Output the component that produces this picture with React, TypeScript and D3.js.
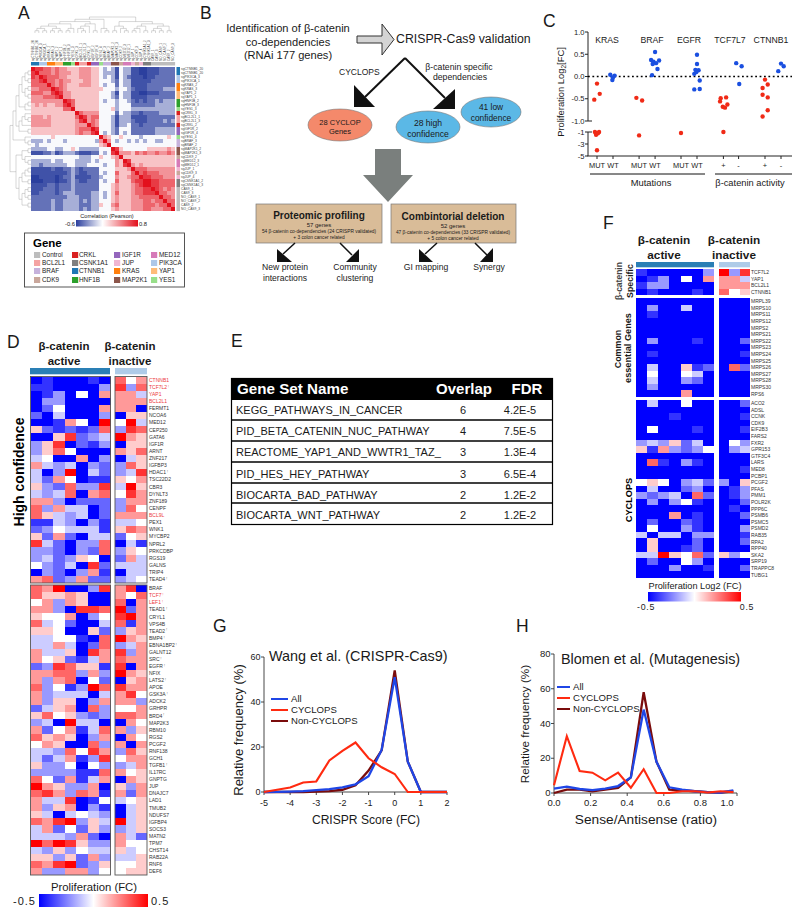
import React from "react";
import * as d3 from "d3";

const FONT = "'Liberation Sans', Arial, sans-serif";

// ---------- Panel A ----------
const sgLabels = ["sgCTNNB1_20","sgCTNNB1_20","sgPIK3CA_3","sgPIK3CA_1","sgKRAS_2","sgKRAS_3","sgYAP1_2","sgYAP1_1","sgHNF1B_2","sgHNF1B_3","sgYES1_3","sgCRKL_3","sgBCL2L1_1","sgBCL2L1_3","sgCRKL_2","sgIGF1R_2","sgIGF1R_4","sgYES1_4","sgBRAF_3","sgBRAF_2","sgMAP2K1_2","sgMAP2K1_3","sgCDK9_2","sgMED12_3","sgMED12_1","sgJUP_1","sgCDK9_3","sgJUP_4","sgCSNK1A1_2","sgCSNK1A1_3","CAS9_1","CAS9_3","NO_CAS9_1","NO_CAS9_2","CAS9_2","NO_CAS9_3"];
const sgGenes = ["CTNNB1","CTNNB1","PIK3CA","PIK3CA","KRAS","KRAS","YAP1","YAP1","HNF1B","HNF1B","YES1","CRKL","BCL2L1","BCL2L1","CRKL","IGF1R","IGF1R","YES1","BRAF","BRAF","MAP2K1","MAP2K1","CDK9","MED12","MED12","JUP","CDK9","JUP","CSNK1A1","CSNK1A1","Control","Control","Control","Control","Control","Control"];
const legendGenes = ["Control","BCL2L1","BRAF","CDK9","CRKL","CSNK1A1","CTNNB1","HNF1B","IGF1R","JUP","KRAS","MAP2K1","MED12","PIK3CA","YAP1","YES1"];
const legendColors = ["#bdbdbd","#f4a3a3","#c6b2dc","#c9a79c","#d9201f","#7f7f7f","#1f77b4","#2ca02c","#9467bd","#f0b6d2","#ff7f0e","#8c564b","#d67ab8","#aec7e8","#ffbb78","#98df8a"];
// upper triangle of the correlation matrix, one digit per cell (index into corrLevels)
const corrLevels = [-0.6,-0.54,-0.44,-0.25,-0.02,0.2,0.36,0.52,0.66,0.8];
const corrUpper = [
"98877676655566655 434 31 433 11001 112222",
"9777676665566655 433 31 433 11001 112222",
"987776655566655 434 31 432 11101 122222",
"97767665556655 444 32 433 11111 222222",
"9767655566655 434 42 433 11112 222222",
"987655555555 544 43 443 21112 222333",
"98665555555 444 31 433 11001 112222",
"9665555555 444 32 433 11112 222222",
"987555555 434 43 443 21212 232333",
"97555555 444 43 444 22222 233333",
"9555555 444 53 444 33333 333333",
"976666 444 42 433 22122 223333",
"98677 444 31 333 11112 222222",
"9676 444 31 333 21112 222323",
"976 444 31 334 22122 222222",
"98 444 32 444 22222 233333",
"9 434 32 434 22222 233333",
"965 44 544 44344 444454",
"96 43 443 43434 433444",
"9 44 444 44444 444444",
"98 544 44445 555565",
"9 666 57676 676676",
"955 55555 555555",
"98 55555 555555",
"9 65655 555555",
"97776 666666",
"9787 776666",
"988 777666",
"99 887777",
"9 887777",
"987676",
"97766",
"9776",
"977",
"97",
"9",
].map(s=>s.replace(/ /g,""));
// dendrogram leaves are the matrix indices
const dendroTree: any = [[[[[[[0,1],[2,3]],[[4,5],[6,7]]],[[8,9],10]],[[[11,[12,13]],14],[15,16]]],[[17,[18,19]]]],[[[20,21],[22,[23,24]]],[[[[25,26],27],[28,29]],[[[30,31],[32,33]],[34,35]]]]];

// ---------- Panel C ----------
const cCats = ["MUT","WT","MUT","WT","MUT","WT","+","-","+","-"];
const cCatPos = [0,1,2.63,3.63,5.25,6.25,7.9,8.85,10.5,11.5];
const cHeads = ["KRAS","BRAF","EGFR","TCF7L7","CTNNB1"];
const cHeadX = [607,652,689,730,771];
const cUpperTicks = [1,0.5,0,-0.5,-1];
const cLowerTicks = [-1,-3,-5];
const cKrasMut = [[0,-0.16],[0.17,-0.39],[-0.17,-0.52],[-0.13,-1],[0.13,-1],[0,-1.2],[-0.06,-1.45],[0.06,-1.2],[0,-4.03]];
const cKrasWt = [[-0.17,0.04],[0.1,0.02],[0,-0.02],[-0.04,-0.08]];
const cBrafMut = [[-0.17,-0.48],[0.19,-0.54],[0,-1.57]];
const cBrafWt = [[0,0.55],[-0.25,0.37],[0.25,0.36],[-0.1,0.33],[0.06,0.3],[-0.15,0.28],[0.15,0.17],[-0.19,0.03]];
const cEgfrMut = [[0,-1.17]];
const cEgfrWt = [[0,0.49],[0,0.28],[-0.1,0.15],[0.1,0.14],[-0.17,0.06],[-0.04,0.1],[0.17,-0.09],[-0.17,-0.29],[0.17,-0.28]];
const cTcfPos = [[-0.17,-0.49],[0.17,-0.47],[-0.21,-0.56],[0.25,-0.63],[-0.04,-0.68],[0.1,-0.7],[0,-1]];
const cTcfNeg = [[-0.15,0.3],[0.19,0.23],[0.04,-0.17]];
const cCtnPos = [[0,-0.07],[0.17,-0.18],[-0.15,-0.26],[-0.15,-0.41],[0.17,-0.47],[0.17,-0.76],[-0.15,-0.9]];
const cCtnNeg = [[0,0.29],[0.17,0.23],[-0.17,0.12]];
const cSeries = [cKrasMut,cKrasWt,cBrafMut,cBrafWt,cEgfrMut,cEgfrWt,cTcfPos,cTcfNeg,cCtnPos,cCtnNeg];

// ---------- Panel D ----------
const dGenesTop = ["CTNNB1","TCF7L2","YAP1","BCL2L1","FERMT1","NCOA6","MED12","CEP250","GATA6","IGF1R","ARNT","ZNF217","IGFBP3","HDAC1","TSC22D2","CBR3","DYNLT3","ZNF189","CENPF","BCL9L","PEX1","WNK1","MYCBP2","NPRL2","PRKCDBP","RGS19","GALNS","TRIP4","TEAD4"];
const dRedGenes = ["CTNNB1","TCF7L2","YAP1","BCL2L1","BCL9L","TCF7","LEF1"];
const dMarkedGenes = ["TCF7L2","HDAC1","TEAD4","TCF7","LEF1","TEAD1","TEAD2","BMP4","EBNA1BP2","SRC","EGFR","LATS2","GSK3A","BRD4","TGFB1"];
// one character per cell: 0 = -0.5 ... 5 = 0 ... a = +0.5
const dTop = ["0100010857","1100003938","0130507774","0330000777","0250007770","2040003066","001750a5a4","6212128398","0069234a76","3690213066","3685000768","4500703046","7434032386","403a042349","4275011657","63283394a6","4348078597","7730222377","8374402385","8643402777","1143031445","2354441687","6272044256","9420338041","3320328365","3423650274","5324092444","0320371044","7823722345"];
const dBottom = ["87a0039790","8667600758","5737600807","7730998a27","65570359a7","8452004817","6650062367","4455108a76","4474028347","7446097937","7562147877","2398661907","7788373a76","7378052067","83513a8977","7344404795","7366037773","2467083557","6856323887","340a440075","7257148736","8676037075","5760083707","4438597386","4247139577","6335053347","3333118756","8527147076","a763370637","8973871727","7449015456","7367031046","6404543046","879a364a46","4725263346","4443720742","a8a9633755","4363544645","6636273446","879a236556","7337735566"];
const dGenesBottom = ["BRAF","TCF7","LEF1","TEAD1","CRYL1","VPS4B","TEAD2","BMP4","EBNA1BP2","GALNT12","SRC","EGFR","NFIX","LATS2","APOE","GSK3A","ADCK2","GRHPR","BRD4","MAP2K3","RBM10","RGS2","PCGF2","RNF138","GCH1","TGFB1","IL17RC","GNPTG","JUP","DNAJC7","LAD1","TMUB2","NDUFS7","IGFBP4","SOCS3","MATN2","TPM7","CHST14","RAB22A","RNF6","DEF6"];

// ---------- Panel E ----------
const eNames = ["KEGG_PATHWAYS_IN_CANCER","PID_BETA_CATENIN_NUC_PATHWAY","REACTOME_YAP1_AND_WWTR1_TAZ_","PID_HES_HEY_PATHWAY","BIOCARTA_BAD_PATHWAY","BIOCARTA_WNT_PATHWAY"];
const eOverlap = [6,4,3,3,2,2];
const eFdr = ["4.2E-5","7.5E-5","1.3E-4","6.5E-4","1.2E-2","1.2E-2"];

// ---------- Panel F ----------
const fGenes1 = ["TCF7L2","YAP1","BCL2L1","CTNNB1"];
const fGenes2 = ["MRPL39","MRPS10","MRPS11","MRPS12","MRPS2","MRPS21","MRPS22","MRPS23","MRPS24","MRPS25","MRPS26","MRPS27","MRPS28","MRPS30","RPS6"];
const fGenes3 = ["ACO2","ADSL","CCNK","CDK9","EIF2B3","FARS2","FXR2","GPR153","GTF3C4","LARS","MED8","PCBP1","PCGF2","PFAS","PMM1","POLR2K","PPP6C","PSMB6","PSMC5","PSMD2","RAB35","RPA2","RPP40","SKA2","SRP19","TRAPPC8","TUBG1"];
const fRows1 = ["1000003a39","0130507774","1330000777","0100010856"];
const fRows2 = ["0000000000","0300400000","0100000000","0000000000","0000000000","0000000000","0300010002","0000000000","0100000001","0000000000","0400612082","0500540000","0400320000","0300000000","0000700000"];
const fRows3 = ["0400500002","0000000000","0001000001","0000000000","0500010001","0000000000","3436240053","6173235034","0000000000","0810310000","0000000001","0000000000","5650342306","0400230013","3234082013","0303510002","0000000010","0007010002","0200210000","0500310003","4044033001","0600020002","0600120000","44a6582635","0200530000","0003001002","0000000000"];

// ---------- Panels G, H ----------
const gX = [-5,-4.5,-4,-3.5,-3,-2.5,-2,-1.5,-1,-0.5,0,0.5,1,1.5,2];
const gAll = [0,0.1,0.2,0.4,0.8,1.3,2.1,3.4,7,18.7,51,13.5,0,0,0];
const gCyclops = [0,1,2,4.2,4.7,14,18.3,22,15,11,8,0,0,0,0];
const gNon = [0,0,0,0,0.2,0.4,1,3,9.5,18.5,54,13.5,0,0,0];
const hX = [0,0.07,0.14,0.21,0.28,0.35,0.42,0.49,0.56,0.63,0.7,0.77,0.84,0.91,0.98];
const hAll = [2.5,3.7,2.3,1.7,2.5,4,9,48,18,3.3,2,1,0.5,0.3,1.5];
const hCyclops = [4.4,32.7,12.7,11.7,7.3,11.7,3,13.7,0,0,1,1,0.3,1,0.5];
const hNon = [0,2,2,1,2,3,9,58,18,2,1.5,1,0.5,0.3,1];
const lineLegend = ["All","CYCLOPS","Non-CYCLOPS"];
const lineColors = ["#1f46e6","#ff2a10","#7a0c0c"];

// ---------- helpers ----------
const corrColor = d3.scaleLinear<string>().domain([-0.6,0,0.8]).range(["#2b3f9e","#ffffff","#e3101c"]);
const fcColor = d3.scaleLinear<string>().domain([-0.5,0,0.5]).range(["#0000ff","#ffffff","#ff0000"]);
const lvl = (c: string) => (c === "a" ? 10 : +c) / 10 - 0.5;

function Txt({x,y,size,children,anchor="start",weight="normal",fill="#1a1a1a",rotate,spacing}: any) {
  return <text x={x} y={y} fontSize={size} textAnchor={anchor} fontWeight={weight} fill={fill} letterSpacing={spacing}
    transform={rotate!==undefined?`rotate(${rotate} ${x} ${y})`:undefined}>{children}</text>;
}

function Heat({rows,x0,x1,y0,y1,from,to,outline="#555"}: any) {
  const nRows = rows.length;
  const n = to - from;
  const xs = d3.scaleLinear().domain([0,n]).range([x0,x1]);
  const ys = d3.scaleLinear().domain([0,nRows]).range([y0,y1]);
  return <g>
    {rows.map((r: string,i: number)=> Array.from(r.slice(from,to)).map((c,j)=>(
      <rect key={`${i}-${j}`} x={xs(j)} y={ys(i)} width={xs(j+1)-xs(j)+0.3} height={ys(i+1)-ys(i)+0.3} fill={fcColor(lvl(c))} shapeRendering="crispEdges"/>
    )))}
    {outline && <rect x={x0} y={y0} width={x1-x0} height={y1-y0} fill="none" stroke={outline} strokeWidth={0.9}/>}
  </g>;
}

function GradBar({id,x,y,w,h,stops}: any) {
  return <g>
    <defs><linearGradient id={id}>{stops.map((s: any,i: number)=><stop key={i} offset={s[0]} stopColor={s[1]}/>)}</linearGradient></defs>
    <rect x={x} y={y} width={w} height={h} fill={`url(#${id})`}/>
  </g>;
}

function Dendro({orientation}: {orientation:"top"|"left"}) {
  const root = d3.hierarchy<any>(dendroTree,(d: any)=>Array.isArray(d)?d:null);
  const cell = 4;
  const depth = orientation==="top"?16:21;
  d3.cluster<any>().separation(()=>1).size([35*cell,depth])(root);
  const start = orientation==="top"?33:69;
  const d = root.links().map((l: any)=>{
    const px = l.source.x+start, py = l.source.y, cx = l.target.x+start, cy = l.target.y;
    return orientation==="top"
      ? `M${px},${py+17}H${cx}V${cy+17}`
      : `M${py+10},${px}V${cx}H${cy+10}`;
  }).join("");
  return <path d={d} fill="none" stroke="#999" strokeWidth={0.4}/>;
}

function PanelA() {
  const cellX = d3.scaleBand<number>().domain(d3.range(36)).range([31,175]);
  const cellY = d3.scaleBand<number>().domain(d3.range(36)).range([67,211]);
  const geneColor = d3.scaleOrdinal<string,string>().domain(legendGenes).range(legendColors);
  const value = (i: number,j: number) => {
    const [a,b] = i<=j?[i,j]:[j,i];
    const c = corrUpper[a]?.[b-a];
    return corrLevels[c===undefined?4:+c];
  };
  const colsLegend = [[34,42],[72,79],[114,122],[151,159]];
  const rowsLegend = [255,263,271,280];
  return <g>
    <Txt x={18} y={19} size={17.5}>A</Txt>
    <Dendro orientation="top"/>
    <Dendro orientation="left"/>
    {sgLabels.map((s,i)=><Txt key={i} x={cellX(i)!+3.2} y={61} size={3.1} fill="#444" rotate={-90}>{s}</Txt>)}
    {sgLabels.map((s,i)=><Txt key={i} x={181} y={cellY(i)!+3.2} size={3.3} fill="#444">{s}</Txt>)}
    {sgGenes.map((g,i)=><rect key={i} x={cellX(i)} y={62} width={4.1} height={3.5} fill={geneColor(g)}/>)}
    {sgGenes.map((g,i)=><rect key={i} x={176.5} y={cellY(i)} width={3.5} height={4.1} fill={geneColor(g)}/>)}
    {d3.range(36).map(i=>d3.range(36).map(j=>(
      <rect key={`${i}-${j}`} x={cellX(j)} y={cellY(i)} width={4.1} height={4.1} fill={corrColor(value(i,j))} shapeRendering="crispEdges"/>
    )))}
    <Txt x={107} y={218} size={5.6} anchor="middle">Correlation (Pearson)</Txt>
    <GradBar id="gradA" x={76} y={220} w={62} h={6.5} stops={[[0,"#2b3f9e"],[0.43,"#ffffff"],[1,"#e3101c"]]}/>
    <Txt x={75} y={225.5} size={5.8} anchor="end">-0.6</Txt>
    <Txt x={139} y={225.5} size={5.8}>0.8</Txt>
    <rect x={24.5} y={233} width={160} height={54} fill="#fff" stroke="#444" strokeWidth={0.9}/>
    <Txt x={33} y={247} size={11.5} weight="bold" fill="#000">Gene</Txt>
    {legendGenes.map((g,i)=>{
      const col = Math.floor(i/4), row = i%4;
      return <g key={g}>
        <rect x={colsLegend[col][0]} y={rowsLegend[row]-3} width={6.2} height={6} fill={legendColors[i]}/>
        <Txt x={colsLegend[col][1]} y={rowsLegend[row]+2.3} size={6.4}>{g}</Txt>
      </g>;
    })}
  </g>;
}

function PanelB() {
  const arrowLines = [
    {x1:405,y1:58,x2:365,y2:97,head:[[354,85],[354,107],[375,107]]},
    {x1:405,y1:58,x2:445,y2:98,head:[[455,89],[455,109],[433,109]]},
  ];
  const small = [
    {x1:295,y1:243,x2:283,y2:254,head:[[277,249],[277,262],[292,262]]},
    {x1:340,y1:243,x2:352,y2:255,head:[[359,249],[359,262],[346,262]]},
    {x1:437,y1:243,x2:425,y2:254,head:[[419,249],[419,262],[433,262]]},
    {x1:475,y1:243,x2:487,y2:255,head:[[493,248],[493,262],[480,262]]},
  ];
  const pts = (p: number[][]) => p.map(a=>a.join(",")).join(" ");
  return <g>
    <Txt x={200} y={19} size={17.5}>B</Txt>
    <Txt x={288} y={32} size={11.1} anchor="middle">Identification of β-catenin</Txt>
    <Txt x={288} y={46} size={11.1} anchor="middle">co-dependencies</Txt>
    <Txt x={288} y={59} size={11.1} anchor="middle">(RNAi 177 genes)</Txt>
    <polygon points="357,36 382,36 382,24 394,39.5 382,55 382,43 357,43" fill="#d4d4d4" stroke="#333" strokeWidth={1}/>
    <Txt x={396} y={43} size={12.3}>CRISPR-Cas9 validation</Txt>
    {arrowLines.map((a,i)=><g key={i}>
      <line x1={a.x1} y1={a.y1} x2={a.x2} y2={a.y2} stroke="#111" strokeWidth={2}/>
      <polygon points={pts(a.head)} fill="#111"/>
    </g>)}
    <Txt x={339} y={75} size={8.5}>CYCLOPS</Txt>
    <Txt x={459} y={70} size={8.7} anchor="middle">β-catenin specific</Txt>
    <Txt x={460} y={80} size={8.7} anchor="middle">dependencies</Txt>
    <ellipse cx={340} cy={125} rx={32} ry={16} fill="#f4896b" stroke="#777" strokeWidth={0.6}/>
    <ellipse cx={428} cy={127} rx={32} ry={16} fill="#5bb8e6" stroke="#777" strokeWidth={0.6}/>
    <ellipse cx={491} cy={112} rx={30} ry={15} fill="#5bb8e6" stroke="#777" strokeWidth={0.6}/>
    <Txt x={340} y={125} size={7.5} anchor="middle">28 CYCLOP</Txt>
    <Txt x={340} y={134} size={7.5} anchor="middle">Genes</Txt>
    <Txt x={428} y={126} size={8.6} anchor="middle">28 high</Txt>
    <Txt x={428} y={136.5} size={8.6} anchor="middle">confidence</Txt>
    <Txt x={491} y={110} size={8.4} anchor="middle">41 low</Txt>
    <Txt x={491} y={121} size={8.4} anchor="middle">confidence</Txt>
    <polygon points="375,149 401,149 401,175 413,175 388,202 363,175 375,175" fill="#7a7f7d"/>
    <rect x={256} y={204} width={126} height={39} fill="#d9bc98" stroke="#777" strokeWidth={0.7}/>
    <rect x={391} y={204} width={125} height={39} fill="#d9bc98" stroke="#777" strokeWidth={0.7}/>
    <Txt x={319} y={219} size={10} weight="bold" anchor="middle">Proteomic profiling</Txt>
    <Txt x={319} y={227} size={6} anchor="middle">57 genes</Txt>
    <Txt x={319} y={233} size={4.8} anchor="middle">54 β-catenin co-dependencies (24 CRISPR validated)</Txt>
    <Txt x={319} y={238.5} size={4.8} anchor="middle">+ 3 colon cancer related</Txt>
    <Txt x={453} y={220} size={10} weight="bold" anchor="middle">Combintorial deletion</Txt>
    <Txt x={453} y={228} size={6} anchor="middle">52 genes</Txt>
    <Txt x={453} y={234} size={4.8} anchor="middle">47 β-catenin co-dependencies (33 CRISPR validated)</Txt>
    <Txt x={453} y={239.5} size={4.8} anchor="middle">+ 5 colon cancer related</Txt>
    {small.map((a,i)=><g key={i}>
      <line x1={a.x1} y1={a.y1} x2={a.x2} y2={a.y2} stroke="#111" strokeWidth={1.5}/>
      <polygon points={pts(a.head)} fill="#111"/>
    </g>)}
    <Txt x={285} y={270} size={8.6} anchor="middle">New protein</Txt>
    <Txt x={285} y={280.5} size={8.6} anchor="middle">interactions</Txt>
    <Txt x={355} y={270} size={8.6} anchor="middle">Community</Txt>
    <Txt x={355} y={280.5} size={8.6} anchor="middle">clustering</Txt>
    <Txt x={426} y={269.5} size={8.6} anchor="middle">GI mapping</Txt>
    <Txt x={489} y={269.5} size={8.6} anchor="middle">Synergy</Txt>
  </g>;
}

function PanelC() {
  const x = d3.scaleLinear().domain([0,1]).range([597,613]);
  const yU = d3.scaleLinear().domain([-1,1]).range([121,32]);
  const yL = d3.scaleLinear().domain([-5,-1]).range([156,132]);
  const yv = (v: number) => v<=-1?yL(v):yU(v);
  return <g>
    <Txt x={543} y={27} size={17.5}>C</Txt>
    <line x1={588} y1={32} x2={588} y2={121} stroke="#222"/>
    <line x1={588} y1={132} x2={588} y2={156} stroke="#222"/>
    <line x1={587.5} y1={156} x2={792} y2={156} stroke="#222"/>
    {cUpperTicks.map(t=><g key={t}>
      <line x1={585} x2={t===-1?592:588} y1={yU(t)} y2={yU(t)} stroke="#222"/>
      <Txt x={584.5} y={yU(t)+2.6} size={7.6} anchor="end">{t.toFixed(1)}</Txt>
    </g>)}
    {cLowerTicks.map(t=><g key={t}>
      <line x1={585} x2={t===-1?592:588} y1={yL(t)} y2={yL(t)} stroke="#222"/>
      <Txt x={584.5} y={yL(t)+2.6} size={7.6} anchor="end">{t}</Txt>
    </g>)}
    <line x1={588} x2={792} y1={yU(0)} y2={yU(0)} stroke="#000" strokeWidth={1.6} strokeDasharray="1.8 2.6"/>
    {cHeads.map((h,i)=><Txt key={h} x={cHeadX[i]} y={43} size={8.7} anchor="middle">{h}</Txt>)}
    {cSeries.map((s,i)=>s.map((p,j)=>(
      <circle key={`${i}-${j}`} cx={x(cCatPos[i]+p[0])} cy={yv(p[1])} r={2.2} fill={i%2===0?"#f02a16":"#1a4fe0"}/>
    )))}
    {cCats.map((c,i)=><g key={i}>
      <line x1={x(cCatPos[i])} x2={x(cCatPos[i])} y1={156} y2={159} stroke="#222"/>
      <Txt x={x(cCatPos[i])} y={168} size={7.4} anchor="middle">{c}</Txt>
    </g>)}
    <line x1={590} x2={705} y1={174} y2={174} stroke="#111" strokeWidth={1}/>
    <line x1={715} x2={792} y1={174} y2={174} stroke="#111" strokeWidth={1}/>
    <Txt x={651} y={186} size={9.4} anchor="middle">Mutations</Txt>
    <Txt x={750} y={186} size={9.3} anchor="middle">β-catenin activity</Txt>
    <text x={564} y={92} fontSize={9.4} fill="#1a1a1a" textAnchor="middle" transform="rotate(-90 564 92)">Proliferation Log<tspan fontSize={6.5} dy={1.5}>2</tspan><tspan dy={-1.5}>[FC]</tspan></text>
  </g>;
}

function PanelD() {
  const topY = d3.scaleBand<number>().domain(d3.range(dGenesTop.length)).range([376.5,583]);
  const botY = d3.scaleBand<number>().domain(d3.range(dGenesBottom.length)).range([585,875]);
  const label = (g: string,y: number) => <g key={g+y}>
    <Txt x={149} y={y} size={5} fill={dRedGenes.includes(g)?"#ec3a40":"#333"}>{g}{dMarkedGenes.includes(g)?<tspan fontSize={3} dx={1} dy={-1.2}>!</tspan>:null}</Txt>
  </g>;
  return <g>
    <Txt x={7} y={348} size={17.5}>D</Txt>
    <Txt x={64} y={350} size={11.5} weight="bold" anchor="middle">β-catenin</Txt>
    <Txt x={64} y={365} size={11.5} weight="bold" anchor="middle">active</Txt>
    <Txt x={130} y={350} size={11.5} weight="bold" anchor="middle">β-catenin</Txt>
    <Txt x={130} y={365} size={11.5} weight="bold" anchor="middle">inactive</Txt>
    <rect x={30} y={368} width={80} height={6.3} fill="#2a7fb5"/>
    <rect x={115} y={368} width={32} height={6.3} fill="#aecbe8"/>
    <Txt x={24} y={472} size={14} weight="bold" anchor="middle" rotate={-90} fill="#000">High confidence</Txt>
    <Heat rows={dTop} from={0} to={7} x0={30.5} x1={110.5} y0={376.5} y1={583}/>
    <Heat rows={dTop} from={7} to={10} x0={115} x1={147} y0={376.5} y1={583}/>
    <Heat rows={dBottom} from={0} to={7} x0={30.5} x1={110.5} y0={585} y1={875}/>
    <Heat rows={dBottom} from={7} to={10} x0={115} x1={147} y0={585} y1={875}/>
    {dGenesTop.map((g,i)=>label(g,topY(i)!+topY.bandwidth()/2+1.7))}
    {dGenesBottom.map((g,i)=>label(g,botY(i)!+botY.bandwidth()/2+1.7))}
    <Txt x={94} y={891} size={11.3} anchor="middle">Proliferation (FC)</Txt>
    <GradBar id="gradD" x={39} y={894} w={109} h={13} stops={[[0,"#0000ff"],[0.5,"#ffffff"],[1,"#ff0000"]]}/>
    <Txt x={36} y={905} size={11} anchor="end" spacing={1}>-0.5</Txt>
    <Txt x={151} y={905} size={11} spacing={1}>0.5</Txt>
  </g>;
}

function PanelE() {
  const rowLines = [420,441,462,483,503];
  const baselines = [414,435,456,478,499,519];
  return <g>
    <Txt x={231} y={347} size={17.5}>E</Txt>
    <rect x={231.5} y={378.5} width={321} height={146} fill="#fff" stroke="#000" strokeWidth={1.2}/>
    <rect x={231} y={378} width={322} height={22} fill="#000"/>
    <Txt x={237} y={394} size={15.2} weight="bold" fill="#fff">Gene Set Name</Txt>
    <Txt x={464} y={394} size={15} weight="bold" fill="#fff" anchor="middle">Overlap</Txt>
    <Txt x={527} y={394} size={15} weight="bold" fill="#fff" anchor="middle">FDR</Txt>
    {rowLines.map(y=><line key={y} x1={231} x2={553} y1={y} y2={y} stroke="#000" strokeWidth={1.6}/>)}
    {eNames.map((n,i)=><g key={n}>
      <Txt x={236} y={baselines[i]} size={11}>{n}</Txt>
      <Txt x={463} y={baselines[i]} size={11} anchor="middle">{eOverlap[i]}</Txt>
      <Txt x={520} y={baselines[i]} size={11} anchor="middle">{eFdr[i]}</Txt>
    </g>)}
  </g>;
}

function PanelF() {
  const blocks = [
    {rows:fRows1,genes:fGenes1,y0:269,y1:295},
    {rows:fRows2,genes:fGenes2,y0:298,y1:397},
    {rows:fRows3,genes:fGenes3,y0:400,y1:578},
  ];
  return <g>
    <Txt x={603} y={229} size={17.5}>F</Txt>
    <Txt x={664} y={244} size={11.8} weight="bold" anchor="middle">β-catenin</Txt>
    <Txt x={664} y={259} size={11.8} weight="bold" anchor="middle">active</Txt>
    <Txt x={734} y={244} size={11.8} weight="bold" anchor="middle">β-catenin</Txt>
    <Txt x={734} y={259} size={11.8} weight="bold" anchor="middle">inactive</Txt>
    <rect x={636} y={262} width={78} height={5.3} fill="#2a7fb5"/>
    <rect x={719} y={262} width={31} height={5.3} fill="#aecbe8"/>
    {blocks.map((b,k)=>{
      const y = d3.scaleBand<number>().domain(d3.range(b.genes.length)).range([b.y0,b.y1]);
      return <g key={k}>
        <Heat rows={b.rows} from={0} to={7} x0={636} x1={714} y0={b.y0} y1={b.y1} outline={null}/>
        <Heat rows={b.rows} from={7} to={10} x0={719} x1={750} y0={b.y0} y1={b.y1} outline={null}/>
        {b.genes.map((g,i)=><Txt key={g} x={751} y={y(i)!+y.bandwidth()/2+1.8} size={5} fill="#333">{g}</Txt>)}
      </g>;
    })}
    <Txt x={622} y={281} size={8.5} weight="bold" anchor="middle" rotate={-90} fill="#444">β-catenin</Txt>
    <Txt x={633} y={281} size={8.8} weight="bold" anchor="middle" rotate={-90}>Specific</Txt>
    <Txt x={621} y={349} size={8.9} weight="bold" anchor="middle" rotate={-90}>Common</Txt>
    <Txt x={631} y={348} size={9.2} weight="bold" anchor="middle" rotate={-90}>essential Genes</Txt>
    <Txt x={632} y={500} size={9.2} weight="bold" anchor="middle" rotate={-90} fill="#000">CYCLOPS</Txt>
    <Txt x={695} y={589} size={9.2} anchor="middle">Proliferation Log2 (FC)</Txt>
    <GradBar id="gradF" x={648} y={592} w={93} h={9.5} stops={[[0,"#0000ff"],[0.5,"#ffffff"],[1,"#ff0000"]]}/>
    <Txt x={646} y={610} size={8.8} anchor="middle" spacing={0.7}>-0.5</Txt>
    <Txt x={747} y={610} size={8.8} anchor="middle" spacing={0.7}>0.5</Txt>
  </g>;
}

function LineChart({xs,all,cyc,non,xRange,xDomain,yRange,yDomain,xTicks,yTicks,fmt,title,titleX,titleY,legX,legY,lab,labX,labSize,ylabX,ylabY,ylabSize,letter,letterX,shiftLast,tickSize}: any) {
  const x = d3.scaleLinear().domain(xDomain).range(xRange);
  const y = d3.scaleLinear().domain(yDomain).range(yRange);
  const line = (vals: number[]) => d3.line<number>().x((_,i)=>x(xs[i])).y(v=>y(v))(vals)!;
  return <g>
    <Txt x={letterX} y={632} size={17.5}>{letter}</Txt>
    <line x1={xRange[0]} x2={xRange[0]} y1={yRange[0]} y2={yRange[1]} stroke="#333" strokeWidth={0.9}/>
    <line x1={xRange[0]} x2={xRange[1]} y1={yRange[0]} y2={yRange[0]} stroke="#333" strokeWidth={0.9}/>
    {yTicks.map((t: number)=><g key={t}>
      <line x1={xRange[0]-3} x2={xRange[0]} y1={y(t)} y2={y(t)} stroke="#333" strokeWidth={0.9}/>
      <Txt x={xRange[0]-3.5} y={y(t)+3} size={tickSize} anchor="end">{t}</Txt>
    </g>)}
    {xTicks.map((t: number,i: number)=><g key={t}>
      <line x1={x(t)} x2={x(t)} y1={yRange[0]} y2={yRange[0]+3} stroke="#333" strokeWidth={0.9}/>
      <Txt x={x(t)+(shiftLast&&i===xTicks.length-1?shiftLast:0)} y={806} size={tickSize} anchor="middle">{fmt(t)}</Txt>
    </g>)}
    <path d={line(non)} fill="none" stroke={lineColors[2]} strokeWidth={2.3}/>
    <path d={line(all)} fill="none" stroke={lineColors[0]} strokeWidth={2.3}/>
    <path d={line(cyc)} fill="none" stroke={lineColors[1]} strokeWidth={2.1}/>
    <Txt x={titleX} y={titleY} size={14.4}>{title}</Txt>
    {lineLegend.map((l,i)=><g key={l}>
      <line x1={legX} x2={legX+(letter==="G"?17:13)} y1={legY[i]} y2={legY[i]} stroke={lineColors[i]} strokeWidth={2}/>
      <Txt x={legX+(letter==="G"?20:16)} y={legY[i]+3.2} size={9.6}>{l}</Txt>
    </g>)}
    <Txt x={labX} y={824} size={labSize} anchor="middle">{lab}</Txt>
    <Txt x={ylabX} y={ylabY} size={ylabSize} anchor="middle" rotate={-90}>Relative frequency (%)</Txt>
  </g>;
}

export default function App() {
  return (
    <svg width={800} height={915} viewBox="0 0 800 915" fontFamily={FONT}
      style={{position:"absolute",left:0,top:0,display:"block",background:"#fff"}}>
      <PanelA/>
      <PanelB/>
      <PanelC/>
      <PanelD/>
      <PanelE/>
      <PanelF/>
      <LineChart letter="G" letterX={213} xs={gX} all={gAll} cyc={gCyclops} non={gNon}
        xDomain={[-5,2]} xRange={[264,447]} yDomain={[0,60]} yRange={[792,657]}
        xTicks={[-5,-4,-3,-2,-1,0,1,2]} yTicks={[0,20,40,60]} fmt={(t: number)=>String(t)} tickSize={9}
        title="Wang et al. (CRISPR-Cas9)" titleX={269} titleY={661} legX={271} legY={[699,710,721]}
        lab="CRISPR Score (FC)" labX={366} labSize={12.1} ylabX={243} ylabY={730} ylabSize={13}/>
      <LineChart letter="H" letterX={516} xs={hX} all={hAll} cyc={hCyclops} non={hNon}
        xDomain={[0,1]} xRange={[554,737]} yDomain={[0,80]} yRange={[793,654]}
        xTicks={[0,0.2,0.4,0.6,0.8,1]} yTicks={[0,20,40,60,80]} fmt={(t: number)=>t.toFixed(1)} tickSize={9.5}
        shiftLast={-10}
        title="Blomen et al. (Mutagenesis)" titleX={561} titleY={664} legX={557} legY={[687,698,709]}
        lab="Sense/Antisense (ratio)" labX={646} labSize={13.7} ylabX={529} ylabY={724} ylabSize={11.7}/>
    </svg>
  );
}
